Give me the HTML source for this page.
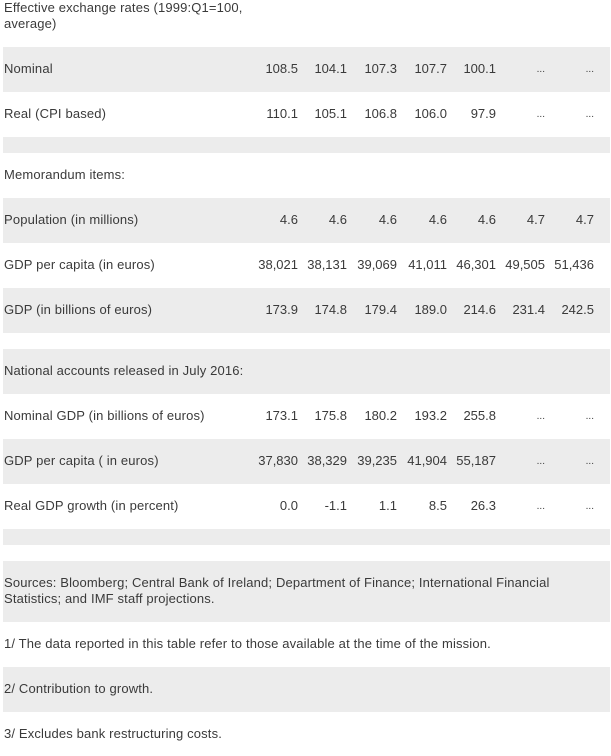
<!DOCTYPE html>
<html>
<head>
<meta charset="utf-8">
<style>
  html, body { margin:0; padding:0; }
  body { width:611px; height:746px; position:relative; overflow:hidden; background:#ffffff;
         font-family:"Liberation Sans", sans-serif; font-size:13px; color:#3a3a3a; }
  .r { position:absolute; left:3px; width:607px; }
  .g { background:#ececec; }
  .lab { position:absolute; left:4px; white-space:nowrap; letter-spacing:0.15px; }
  .n { position:absolute; width:70px; text-align:right; white-space:nowrap; }
  .d { font-size:10px; letter-spacing:0; }
</style>
</head>
<body>

<!-- row backgrounds -->
<div class="r g" style="top:47px;height:45px;"></div>
<div class="r g" style="top:137px;height:16px;"></div>
<div class="r g" style="top:198px;height:45px;"></div>
<div class="r g" style="top:288px;height:45px;"></div>
<div class="r g" style="top:349px;height:45px;"></div>
<div class="r g" style="top:439px;height:45px;"></div>
<div class="r g" style="top:529px;height:16px;"></div>
<div class="r g" style="top:561px;height:61px;"></div>
<div class="r g" style="top:667px;height:45px;"></div>

<!-- title -->
<div class="lab" style="top:0px;line-height:15.5px;">Effective exchange rates (1999:Q1=100,<br>average)</div>

<!-- labels -->
<div class="lab" style="top:47px;line-height:44px;">Nominal</div>
<div class="lab" style="top:92px;line-height:44px;">Real (CPI based)</div>
<div class="lab" style="top:153px;line-height:44px;">Memorandum items:</div>
<div class="lab" style="top:198px;line-height:44px;">Population (in millions)</div>
<div class="lab" style="top:243px;line-height:44px;">GDP per capita (in euros)</div>
<div class="lab" style="top:288px;line-height:44px;">GDP (in billions of euros)</div>
<div class="lab" style="top:349px;line-height:44px;">National accounts released in July 2016:</div>
<div class="lab" style="top:394px;line-height:44px;">Nominal GDP (in billions of euros)</div>
<div class="lab" style="top:439px;line-height:44px;">GDP per capita ( in euros)</div>
<div class="lab" style="top:484px;line-height:44px;">Real GDP growth (in percent)</div>
<div class="lab" style="top:575px;line-height:16px;">Sources: Bloomberg; Central Bank of Ireland; Department of Finance; International Financial<br>Statistics; and IMF staff projections.</div>
<div class="lab" style="top:622px;line-height:44px;">1/ The data reported in this table refer to those available at the time of the mission.</div>
<div class="lab" style="top:667px;line-height:44px;">2/ Contribution to growth.</div>
<div class="lab" style="top:712px;line-height:44px;">3/ Excludes bank restructuring costs.</div>

<!-- Nominal -->
<div class="n" style="top:47px;line-height:44px;left:228px;">108.5</div>
<div class="n" style="top:47px;line-height:44px;left:277px;">104.1</div>
<div class="n" style="top:47px;line-height:44px;left:327px;">107.3</div>
<div class="n" style="top:47px;line-height:44px;left:377px;">107.7</div>
<div class="n" style="top:47px;line-height:44px;left:426px;">100.1</div>
<div class="n d" style="top:47px;line-height:46px;left:475px;">...</div>
<div class="n d" style="top:47px;line-height:46px;left:524px;">...</div>

<!-- Real -->
<div class="n" style="top:92px;line-height:44px;left:228px;">110.1</div>
<div class="n" style="top:92px;line-height:44px;left:277px;">105.1</div>
<div class="n" style="top:92px;line-height:44px;left:327px;">106.8</div>
<div class="n" style="top:92px;line-height:44px;left:377px;">106.0</div>
<div class="n" style="top:92px;line-height:44px;left:426px;">97.9</div>
<div class="n d" style="top:92px;line-height:46px;left:475px;">...</div>
<div class="n d" style="top:92px;line-height:46px;left:524px;">...</div>

<!-- Population -->
<div class="n" style="top:198px;line-height:44px;left:228px;">4.6</div>
<div class="n" style="top:198px;line-height:44px;left:277px;">4.6</div>
<div class="n" style="top:198px;line-height:44px;left:327px;">4.6</div>
<div class="n" style="top:198px;line-height:44px;left:377px;">4.6</div>
<div class="n" style="top:198px;line-height:44px;left:426px;">4.6</div>
<div class="n" style="top:198px;line-height:44px;left:475px;">4.7</div>
<div class="n" style="top:198px;line-height:44px;left:524px;">4.7</div>

<!-- GDP per capita -->
<div class="n" style="top:243px;line-height:44px;left:228px;">38,021</div>
<div class="n" style="top:243px;line-height:44px;left:277px;">38,131</div>
<div class="n" style="top:243px;line-height:44px;left:327px;">39,069</div>
<div class="n" style="top:243px;line-height:44px;left:377px;">41,011</div>
<div class="n" style="top:243px;line-height:44px;left:426px;">46,301</div>
<div class="n" style="top:243px;line-height:44px;left:475px;">49,505</div>
<div class="n" style="top:243px;line-height:44px;left:524px;">51,436</div>

<!-- GDP billions -->
<div class="n" style="top:288px;line-height:44px;left:228px;">173.9</div>
<div class="n" style="top:288px;line-height:44px;left:277px;">174.8</div>
<div class="n" style="top:288px;line-height:44px;left:327px;">179.4</div>
<div class="n" style="top:288px;line-height:44px;left:377px;">189.0</div>
<div class="n" style="top:288px;line-height:44px;left:426px;">214.6</div>
<div class="n" style="top:288px;line-height:44px;left:475px;">231.4</div>
<div class="n" style="top:288px;line-height:44px;left:524px;">242.5</div>

<!-- Nominal GDP -->
<div class="n" style="top:394px;line-height:44px;left:228px;">173.1</div>
<div class="n" style="top:394px;line-height:44px;left:277px;">175.8</div>
<div class="n" style="top:394px;line-height:44px;left:327px;">180.2</div>
<div class="n" style="top:394px;line-height:44px;left:377px;">193.2</div>
<div class="n" style="top:394px;line-height:44px;left:426px;">255.8</div>
<div class="n d" style="top:394px;line-height:46px;left:475px;">...</div>
<div class="n d" style="top:394px;line-height:46px;left:524px;">...</div>

<!-- GDP per capita (national accounts) -->
<div class="n" style="top:439px;line-height:44px;left:228px;">37,830</div>
<div class="n" style="top:439px;line-height:44px;left:277px;">38,329</div>
<div class="n" style="top:439px;line-height:44px;left:327px;">39,235</div>
<div class="n" style="top:439px;line-height:44px;left:377px;">41,904</div>
<div class="n" style="top:439px;line-height:44px;left:426px;">55,187</div>
<div class="n d" style="top:439px;line-height:46px;left:475px;">...</div>
<div class="n d" style="top:439px;line-height:46px;left:524px;">...</div>

<!-- Real GDP growth -->
<div class="n" style="top:484px;line-height:44px;left:228px;">0.0</div>
<div class="n" style="top:484px;line-height:44px;left:277px;">-1.1</div>
<div class="n" style="top:484px;line-height:44px;left:327px;">1.1</div>
<div class="n" style="top:484px;line-height:44px;left:377px;">8.5</div>
<div class="n" style="top:484px;line-height:44px;left:426px;">26.3</div>
<div class="n d" style="top:484px;line-height:46px;left:475px;">...</div>
<div class="n d" style="top:484px;line-height:46px;left:524px;">...</div>

</body>
</html>
